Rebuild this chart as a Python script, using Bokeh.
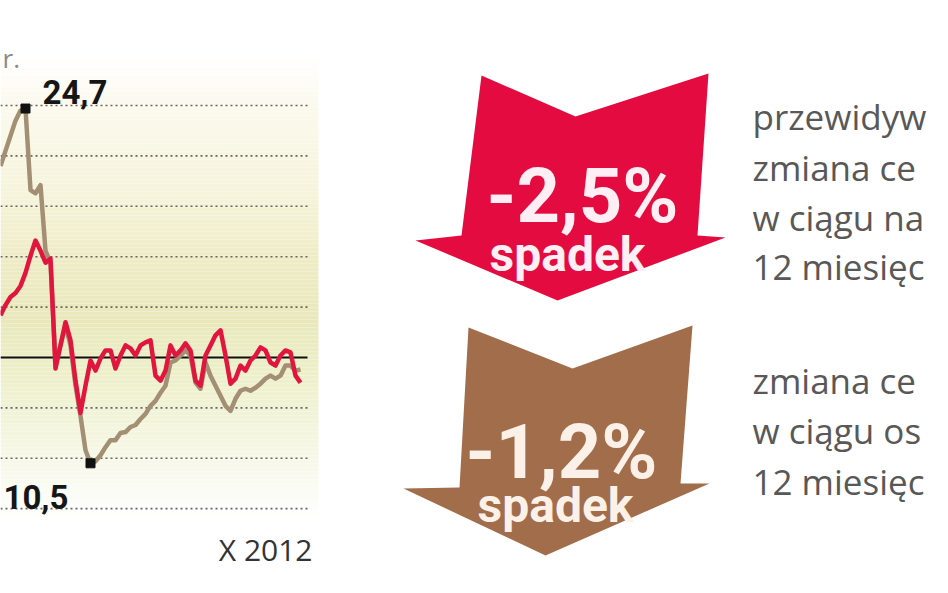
from bokeh.plotting import figure
from bokeh.models import Range1d
from bokeh.core.properties import value
from bokeh.embed import file_html
from bokeh.resources import INLINE

# ---------------- data ----------------
week = list(range(61))
# red series: predicted price change (%)
forecast_change = [4.2, 5.2, 6.0, 6.4, 7.1, 8.4, 10.1, 11.6, 10.6, 9.4, 9.8, -1.1, 1.2, 3.5, 1.7,
                   -2.3, -5.5, -2.8, -0.3, -1.3, -0.1, 0.7, 0.7, -1.1, 0.2, 1.2, 0.9, 0.2, 1.2, 1.5,
                   1.7, -1.8, -2.3, -1.3, 1.2, 0.2, 0.7, 1.4, 0.7, -2.3, -2.8, 0.2, 1.2, 2.2, 2.7,
                   0.2, -2.6, -2.1, -0.8, -1.3, -0.3, 0.2, 1.0, 0.7, -0.5, -0.8, 0.2, 0.7, 0.5, -1.8, -2.5]
# brown series: actual price change (%)
actual_change = [19.0, 20.5, 22.0, 23.5, 24.5, 24.7, 16.6, 16.3, 17.1, 10.6, 9.4, -0.5, 1.2, 3.2, 1.2,
                 -2.8, -5.8, -9.2, -10.5, -10.3, -9.7, -8.9, -8.2, -8.2, -7.5, -7.4, -6.9, -6.7, -6.1,
                 -5.6, -4.8, -4.3, -3.5, -2.8, -0.5, -0.3, 0.2, 0.7, 0.2, -2.5, -3.1, -0.5, -1.8, -2.8,
                 -3.8, -4.8, -5.3, -4.1, -3.3, -3.1, -3.3, -3.0, -2.6, -2.1, -1.8, -2.1, -1.8, -0.8,
                 -0.8, -1.3, -1.2]
grid_values = [-15, -10, -5, 5, 10, 15, 20, 25]
peak_label = "24,7"
min_label = "10,5"
axis_end_label = "X 2012"
title_tail = "r."
forecast_value = "-2,5%"
actual_value = "-1,2%"
arrow_word = "spadek"
forecast_desc = ["przewidyw", "zmiana ce", "w ciągu na", "12 miesięc"]
actual_desc = ["zmiana ce", "w ciągu os", "12 miesięc"]

# ---------------- figure ----------------
W, H = 932, 577
p = figure(width=W, height=H, x_range=Range1d(0, 186.4), y_range=Range1d(-21.83, 35.42),
           output_backend="svg", toolbar_location=None, x_axis_location=None, y_axis_location=None,
           min_border=0, outline_line_color=None, background_fill_color="white",
           border_fill_color="white")
p.grid.visible = False
p.extra_x_ranges = {"px": Range1d(0, W)}
p.extra_y_ranges = {"px": Range1d(H, 0)}
PX = dict(x_range_name="px", y_range_name="px")

# chart background gradient (decoration)
stops_y = [55, 110, 190, 260, 320, 360, 420, 475, 520]
stops_c = [(255, 255, 255), (251, 249, 236), (246, 244, 219), (238, 236, 197), (233, 232, 188),
           (236, 238, 198), (242, 244, 218), (249, 250, 238), (255, 255, 255)]
tops, bots, cols = [], [], []
for yy in range(55, 520, 4):
    c = stops_c[-1]
    for k in range(len(stops_y) - 1):
        if stops_y[k] <= yy + 2 <= stops_y[k + 1]:
            t = (yy + 2 - stops_y[k]) / (stops_y[k + 1] - stops_y[k])
            c = tuple(int(round(stops_c[k][j] + t * (stops_c[k + 1][j] - stops_c[k][j]))) for j in range(3))
            break
    tops.append(yy)
    bots.append(yy + 4)
    cols.append("#%02x%02x%02x" % c)
p.quad(left=0, right=318, top=tops, bottom=bots, fill_color=cols, line_color=None, **PX)

# grid
gx1 = week[-1] + 1.4
p.segment(x0=[week[0]] * len(grid_values), x1=[gx1] * len(grid_values), y0=grid_values, y1=grid_values,
          line_color="#666666", line_width=1.6, line_dash="2 3")
p.segment(x0=[week[0]], x1=[gx1], y0=[0], y1=[0], line_color="#111111", line_width=2)

# series
p.line(week, actual_change, line_color="#a38f74", line_width=4.5, line_join="round")
p.line(week, forecast_change, line_color="#e1163e", line_width=4.5, line_join="round")

ipk = actual_change.index(max(actual_change))
imn = actual_change.index(min(actual_change))
p.scatter([week[ipk]], [actual_change[ipk]], marker="square", size=9, color="#111111")
p.scatter([week[imn]], [actual_change[imn]], marker="square", size=9, color="#111111")
LBL = dict(text_font=value("Roboto"), text_font_style="bold", text_font_size="33px",
           text_color="#161616", text_baseline="alphabetic", text_align="left")
p.text(x=[week[ipk] + 3.4], y=[actual_change[ipk] + 1.6], text=[peak_label], **LBL)
p.text(x=[week[imn] - 17.4], y=[actual_change[imn] - 3.3], text=[min_label], **LBL)

p.text(x=[312], y=[549], text=[axis_end_label], text_align="right", text_baseline="alphabetic",
       text_font=value("Open Sans"), text_font_size="30px", text_color="#333333", **PX)
p.text(x=[2], y=[57], text=[title_tail], text_align="left", text_baseline="alphabetic",
       text_font=value("Open Sans"), text_font_size="26px", text_color="#8a8a8a", **PX)

# arrows (decoration)
red_arrow_x = [481, 575, 708, 697, 725, 557, 415, 461]
red_arrow_y = [75, 116, 73, 235, 237, 300, 240, 235]
brown_arrow_x = [468, 572, 692, 680, 709, 545, 403, 459]
brown_arrow_y = [327, 368, 325, 483, 483, 555, 488, 487]
p.patch(red_arrow_x, red_arrow_y, fill_color="#e30b3f", line_color=None, **PX)
p.patch(brown_arrow_x, brown_arrow_y, fill_color="#a26d4b", line_color=None, **PX)

BIG = dict(text_font=value("Roboto"), text_font_style="bold", text_align="center",
           text_baseline="alphabetic")
p.text(x=[582], y=[195], text=[forecast_value], text_font_size="76px", text_color="#ffeef3", **BIG, **PX)
p.text(x=[567], y=[254], text=[arrow_word], text_font_size="48px", text_color="#ffeef3", **BIG, **PX)
p.text(x=[561], y=[451], text=[actual_value], text_font_size="76px", text_color="#fbf1e8", **BIG, **PX)
p.text(x=[555], y=[505], text=[arrow_word], text_font_size="48px", text_color="#fbf1e8", **BIG, **PX)

DESC = dict(text_font=value("Open Sans"), text_font_size="35px", text_color="#585858",
            text_align="left", text_baseline="alphabetic")
p.text(x=[752] * 4, y=[116, 167, 217, 266], text=forecast_desc, **DESC, **PX)
p.text(x=[752] * 3, y=[380, 430, 481], text=actual_desc, **DESC, **PX)

open("out.html", "w").write(file_html(p, INLINE))
